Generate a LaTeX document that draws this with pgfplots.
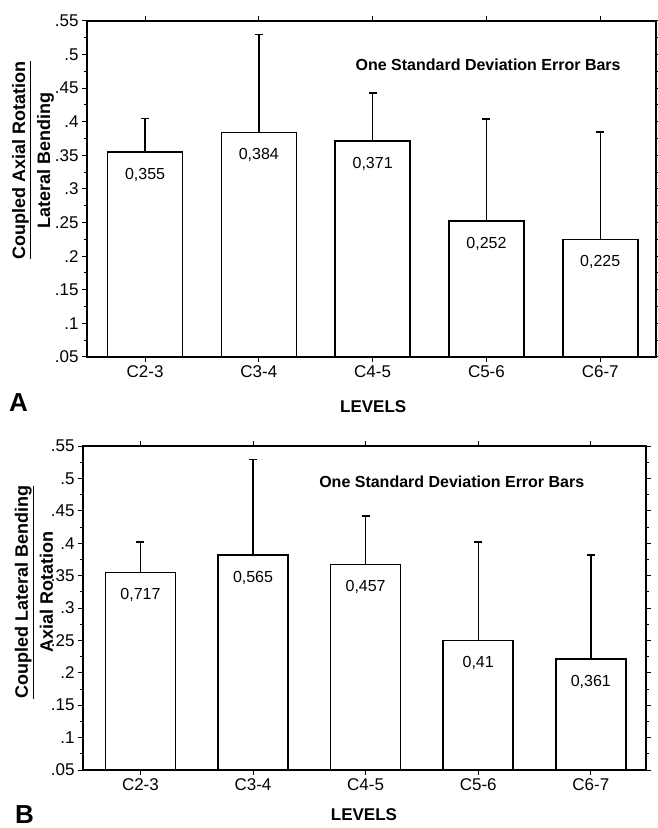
\documentclass[border=0pt]{standalone}
\usepackage{fontspec}
\setmainfont{Liberation Sans}
\usepackage{pgfplots}
\usepackage{pgfplotstable}
\pgfplotsset{compat=1.18}

\pgfplotstableread{
x y ep label
0 0.355 0.050 0,355
1 0.384 0.146 0,384
2 0.371 0.072 0,371
3 0.252 0.152 0,252
4 0.225 0.160 0,225
}\dataA

\pgfplotstableread{
x y ep label
0 0.355 0.047 0,717
1 0.382 0.147 0,565
2 0.367 0.075 0,457
3 0.250 0.152 0,41
4 0.221 0.161 0,361
}\dataB

\pgfplotsset{
  panel/.style={
    scale only axis,
    xmin=-0.51, xmax=4.49, ymin=0.05, ymax=0.55,
    xtick={0,1,2,3,4},
    xticklabels={C2-3,C3-4,C4-5,C5-6,C6-7},
    ytick={0.05,0.1,0.15,0.2,0.25,0.3,0.35,0.4,0.45,0.5,0.55},
    yticklabels={.05,.1,.15,.2,.25,.3,.35,.4,.45,.5,.55},
    minor y tick num=1,
    tick align=outside,
    xtick pos=both, ytick pos=both,
    xticklabel pos=lower, yticklabel pos=left,
    major tick length=5pt, minor tick length=3pt,
    axis line style={line width=1.6pt},
    every tick/.style={black, line width=1pt},
    tick label style={font=\fontsize{17}{20}\selectfont},
    /pgf/number format/assume math mode=true,
    ylabel style={font=\bfseries\fontsize{18}{21}\selectfont, align=center, anchor=center},
    xlabel style={font=\bfseries\fontsize{17}{20}\selectfont, anchor=center},
  },
  barplot/.style={
    ybar, draw=black, fill=white, line width=1.6pt,
    point meta=explicit symbolic,
    nodes near coords,
    nodes near coords style={anchor=north, yshift=-12pt, font=\fontsize{16}{19}\selectfont, text=black},
    error bars/.cd, y dir=plus, y explicit,
    error bar style={line width=1.4pt, black},
    error mark options={rotate=90, mark size=4pt, line width=1.4pt, black},
  },
}

\begin{document}
\begin{tikzpicture}
\useasboundingbox (0pt,0pt) rectangle (658pt,828pt);

\begin{axis}[panel, name=A,
  at={(87pt,471pt)}, anchor=south west,
  width=569pt, height=336pt,
  bar width=75pt,
  ylabel={\underline{Coupled Axial Rotation}\\[4pt] Lateral Bending},
  ylabel style={at={(axis description cs:-0.095,0.586)}},
  xlabel={LEVELS},
  xlabel style={at={(axis description cs:0.503,-0.149)}},
]
\addplot[barplot] table[x=x, y=y, y error plus=ep, meta=label] {\dataA};
\node[font=\bfseries\fontsize{16}{19}\selectfont] at (axis description cs:0.705,0.869) {One Standard Deviation Error Bars};
\end{axis}

\begin{axis}[panel, name=B,
  at={(83pt,58pt)}, anchor=south west,
  width=563pt, height=324pt,
  bar width=70pt,
  ylabel={\underline{Coupled Lateral Bending}\\[4pt] Axial Rotation},
  ylabel style={at={(axis description cs:-0.087,0.549)}},
  xlabel={LEVELS},
  xlabel style={at={(axis description cs:0.499,-0.139)}},
]
\addplot[barplot] table[x=x, y=y, y error plus=ep, meta=label] {\dataB};
\node[font=\bfseries\fontsize{16}{19}\selectfont] at (axis description cs:0.655,0.889) {One Standard Deviation Error Bars};
\end{axis}

\node[font=\bfseries\fontsize{26}{30}\selectfont, inner sep=1pt] at ([xshift=-68.5pt,yshift=-45.5pt]A.south west) {A};
\node[font=\bfseries\fontsize{26}{30}\selectfont, inner sep=1pt] at ([xshift=-58.5pt,yshift=-45pt]B.south west) {B};
\end{tikzpicture}
\end{document}
